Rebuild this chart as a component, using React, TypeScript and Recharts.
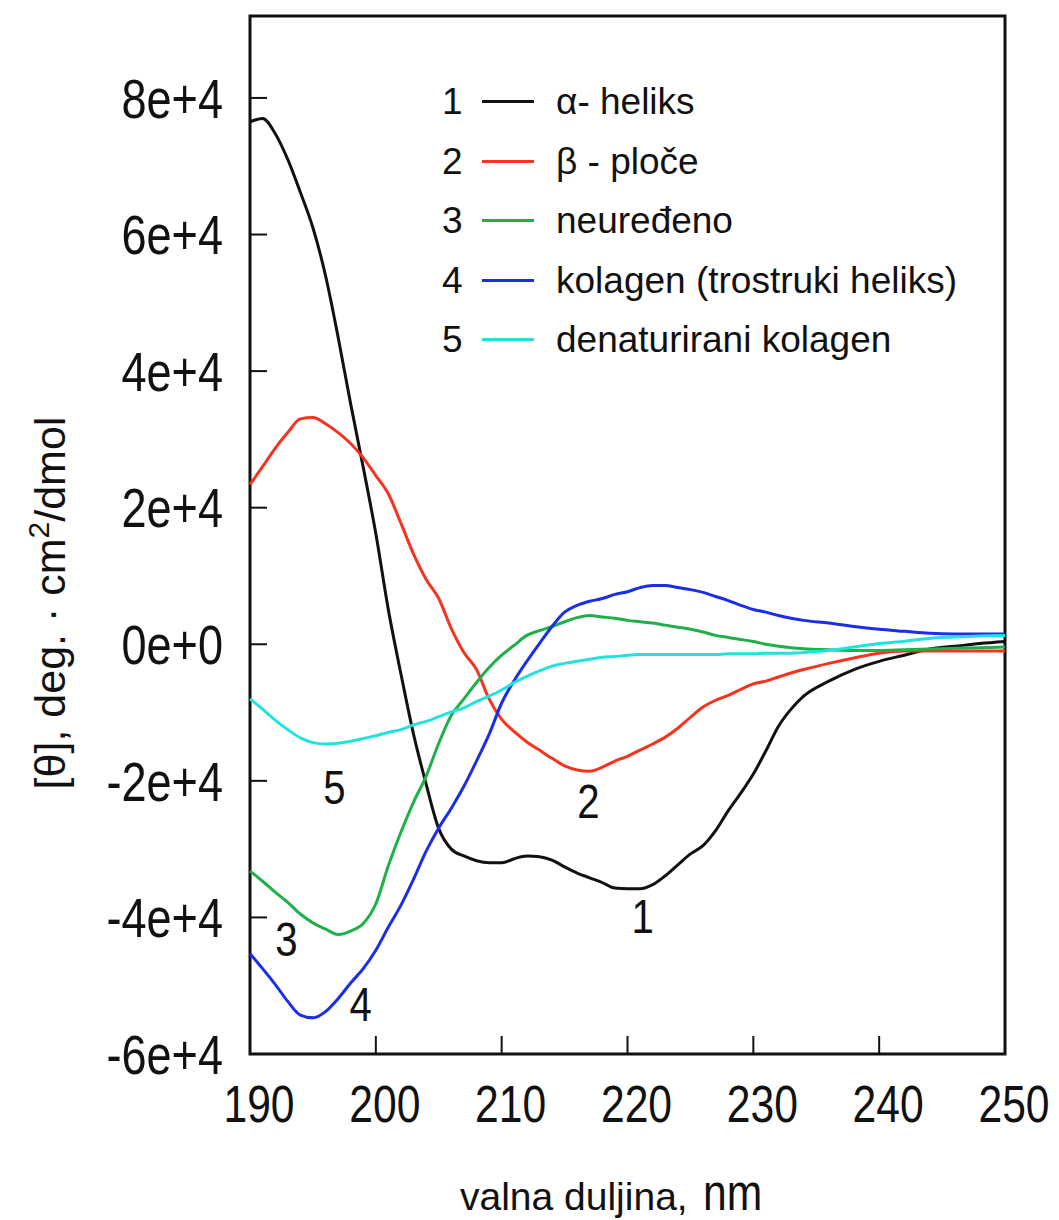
import React from 'react';
import { LineChart, Line, XAxis, YAxis, ReferenceArea, ReferenceDot } from 'recharts';

// wavelength grid, nm
const wavelengths = [
  190, 191, 192, 193, 194, 195, 196, 197, 198, 199,
  200, 201, 202, 203, 204, 205, 206, 207, 208, 209,
  210, 211, 212, 213, 214, 215, 216, 217, 218, 219,
  220, 221, 222, 223, 224, 225, 226, 227, 228, 229,
  230, 231, 232, 233, 234, 236, 238, 240, 242, 244,
  246, 248, 250,
];

// [θ] values
const alphaHelix = [
  76500, 77000, 74800, 71000, 66200, 61000, 54000, 45000, 35200, 25900,
  16200, 5000, -4400, -13200, -20500, -27000, -30000, -31000, -31700, -32000,
  -32000, -31400, -31000, -31100, -31600, -32600, -33500, -34200, -34900, -35700,
  -35800, -35800, -35200, -33900, -32300, -30700, -29500, -27300, -24400, -21800,
  -19000, -15600, -12000, -9500, -7600, -5400, -3700, -2500, -1600, -700,
  -300, 100, 400,
];

const betaSheet = [
  23400, 26000, 28700, 31000, 33000, 33200, 32300, 31000, 29400, 27300,
  24700, 22000, 17700, 13200, 9500, 6700, 2300, -1200, -3700, -8000,
  -11000, -12800, -14300, -15500, -16700, -17800, -18400, -18600, -18000, -17100,
  -16400, -15500, -14600, -13600, -12300, -10700, -9200, -8200, -7500, -6600,
  -5800, -5400, -4800, -4200, -3700, -2800, -2000, -1300, -1000, -1000,
  -1000, -1000, -1000,
];

const randomCoil = [
  -33200, -34700, -36300, -37800, -39500, -40800, -41700, -42500, -42000, -40900,
  -38000, -32400, -27500, -23100, -19300, -14500, -10400, -8000, -5600, -3400,
  -1600, -150, 1300, 2000, 2600, 3300, 3900, 4200, 4000, 3800,
  3500, 3300, 3100, 2800, 2500, 2200, 1800, 1300, 1000, 700,
  400, 0, -300, -500, -650, -800, -900, -900, -800, -700,
  -600, -500, -400,
];

const collagen = [
  -45300, -47500, -49800, -52300, -54300, -54700, -53800, -51900, -49600, -47500,
  -44800, -41400, -38200, -34400, -30300, -26900, -24000, -20800, -17100, -13200,
  -8600, -5300, -2500, 100, 2600, 4700, 5700, 6300, 6700, 7300,
  7700, 8300, 8600, 8600, 8300, 8000, 7600, 7000, 6400, 5700,
  5100, 4700, 4200, 3800, 3500, 3100, 2600, 2200, 1900, 1600,
  1500, 1500, 1500,
];

const denaturedCollagen = [
  -8000, -9500, -11100, -12500, -13700, -14400, -14600, -14500, -14200, -13800,
  -13400, -12900, -12500, -11800, -11300, -10600, -9900, -9300, -8400, -7600,
  -6700, -5600, -4700, -3900, -3200, -2800, -2500, -2200, -1900, -1800,
  -1600, -1500, -1500, -1500, -1500, -1500, -1500, -1500, -1400, -1400,
  -1400, -1300, -1300, -1300, -1200, -900, -400, 100, 450, 850,
  1050, 1200, 1300,
];

const xTicks = [190, 200, 210, 220, 230, 240, 250];
const xTickLabels = ['190', '200', '210', '220', '230', '240', '250'];
const yTicks = [-60000, -40000, -20000, 0, 20000, 40000, 60000, 80000];
const yTickLabels = ['-6e+4', '-4e+4', '-2e+4', '0e+0', '2e+4', '4e+4', '6e+4', '8e+4'];

const seriesNames = ['α- heliks', 'β - ploče', 'neuređeno', 'kolagen (trostruki heliks)', 'denaturirani kolagen'];

// numbers written next to the curves
const curveLabelText = ['1', '2', '3', '4', '5'];
const curveLabelNm = [221.2, 216.9, 192.9, 198.8, 196.7];
const curveLabelValue = [-39700, -22800, -43000, -52600, -20800];

const SANS = "'Liberation Sans', Arial, Helvetica, sans-serif";
const INK = '#111';
const NARROW = 0.82; // horizontal squeeze, the original uses a condensed face

const series = [
  { key: 'alpha', color: '#111111' },
  { key: 'beta', color: '#f5331f' },
  { key: 'coil', color: '#1fb04a' },
  { key: 'collagen', color: '#1a2de8' },
  { key: 'denatured', color: '#22e3dc' },
];

const XTick = (props: any) => {
  const { x, y, payload } = props;
  return (
    <text
      transform={`translate(${x + 9},${y + 86}) scale(${NARROW},1)`}
      textAnchor="middle"
      fontFamily={SANS}
      fontSize={52}
      fill={INK}
    >
      {xTickLabels[xTicks.indexOf(payload.value)]}
    </text>
  );
};

const YTick = (props: any) => {
  const { x, y, payload } = props;
  return (
    <text
      transform={`translate(${x - 44},${y}) scale(${NARROW},1)`}
      dy="0.36em"
      textAnchor="end"
      fontFamily={SANS}
      fontSize={55}
      fill={INK}
    >
      {yTickLabels[yTicks.indexOf(payload.value)]}
    </text>
  );
};

const CurveNumber = (text: string) => (props: any) => (
  <text
    transform={`translate(${props.cx},${props.cy}) scale(${NARROW},1)`}
    dy="0.36em"
    textAnchor="middle"
    fontFamily={SANS}
    fontSize={49}
    fill={INK}
  >
    {text}
  </text>
);

const LegendBox = () => (
  <div style={{ position: 'absolute', left: 442, top: 72, fontFamily: SANS, fontSize: 37, color: INK }}>
    {series.map((s, i) => (
      <div key={s.key} style={{ position: 'relative', width: 560, height: 59.5, lineHeight: '59.5px', whiteSpace: 'nowrap' }}>
        <span style={{ position: 'absolute', left: 0, top: 0 }}>{i + 1}</span>
        <span style={{ position: 'absolute', left: 40, top: 28, width: 52, height: 3, background: s.color }} />
        <span style={{ position: 'absolute', left: 114, top: 0 }}>{seriesNames[i]}</span>
      </div>
    ))}
  </div>
);

export default function App() {
  const data = wavelengths.map((nm, i) => ({
    nm,
    alpha: alphaHelix[i],
    beta: betaSheet[i],
    coil: randomCoil[i],
    collagen: collagen[i],
    denatured: denaturedCollagen[i],
  }));

  return (
    <div style={{ position: 'absolute', left: 0, top: 0, width: 1059, height: 1220, background: '#fff', fontFamily: SANS }}>
      <LineChart width={1059} height={1220} data={data} margin={{ top: 16, right: 54, bottom: 0, left: 0 }}>
        <XAxis
          dataKey="nm"
          type="number"
          domain={[190, 250]}
          ticks={xTicks}
          interval={0}
          height={166}
          axisLine={false}
          tickSize={-18}
          tickMargin={0}
          tickLine={{ stroke: INK, strokeWidth: 2 }}
          tick={XTick}
        />
        <YAxis
          type="number"
          domain={[-60000, 92000]}
          ticks={yTicks}
          interval={0}
          width={250}
          allowDataOverflow
          axisLine={false}
          tickSize={-17}
          tickMargin={0}
          tickLine={{ stroke: INK, strokeWidth: 2 }}
          tick={YTick}
        />
        {series.map((s, i) => (
          <Line
            key={s.key}
            dataKey={s.key}
            name={seriesNames[i]}
            type="monotone"
            stroke={s.color}
            strokeWidth={3}
            dot={false}
            activeDot={false}
            isAnimationActive={false}
          />
        ))}
        {curveLabelText.map((t, i) => (
          <ReferenceDot
            key={t}
            x={curveLabelNm[i]}
            y={curveLabelValue[i]}
            r={0}
            shape={CurveNumber(t)}
          />
        ))}
        <ReferenceArea
          x1={190}
          x2={250}
          y1={-60000}
          y2={92000}
          fill="none"
          stroke={INK}
          strokeWidth={3}
          ifOverflow="visible"
        />
      </LineChart>
      <LegendBox />
      <svg width={1059} height={1220} style={{ position: 'absolute', left: 0, top: 0, pointerEvents: 'none' }}>
        <text transform="translate(65,603) rotate(-90)" textAnchor="middle" fontFamily={SANS} fontSize={43} fill={INK}>
          [θ], deg. · cm<tspan dy={-16} fontSize={30}>2</tspan>
          <tspan dy={16}>/dmol</tspan>
        </text>
        <text x={460} y={1210} fontFamily={SANS} fontSize={39} fill={INK}>
          valna duljina,
        </text>
        <text transform={`translate(703,1210) scale(${NARROW},1)`} fontFamily={SANS} fontSize={52} fill={INK}>
          nm
        </text>
      </svg>
    </div>
  );
}
